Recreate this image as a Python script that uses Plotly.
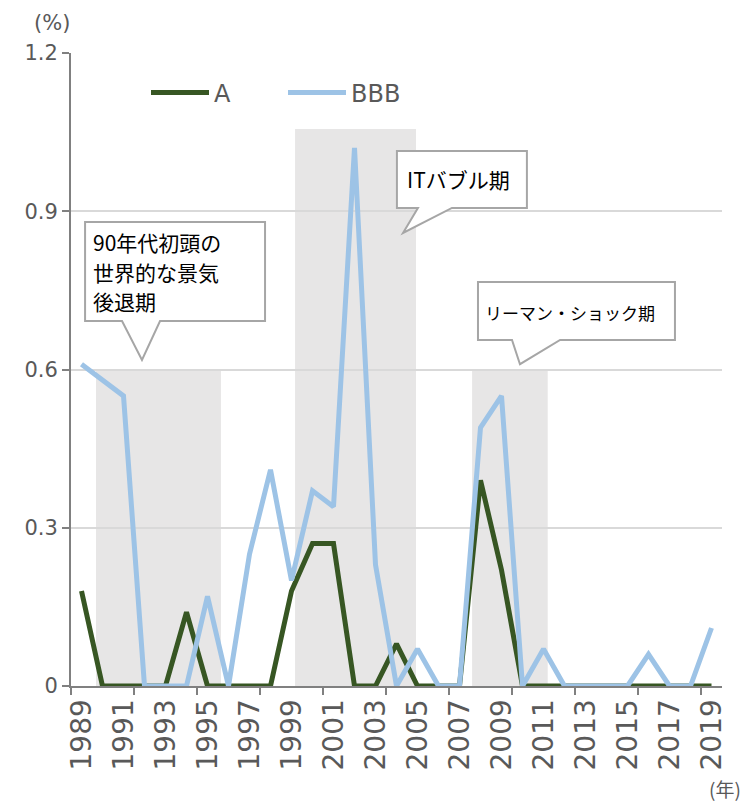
import plotly.graph_objects as go

years = list(range(1989, 2020))
rate_A = [0.18, 0, 0, 0, 0, 0.14, 0, 0, 0, 0, 0.18, 0.27, 0.27, 0, 0, 0.08, 0, 0, 0,
          0.39, 0.22, 0, 0, 0, 0, 0, 0, 0, 0, 0, 0]
rate_BBB = [0.61, 0.58, 0.55, 0, 0, 0, 0.17, 0, 0.25, 0.41, 0.20, 0.37, 0.34, 1.02, 0.23,
            0, 0.07, 0, 0, 0.49, 0.55, 0, 0.07, 0, 0, 0, 0, 0.06, 0, 0, 0.11]
tick_years = list(range(1989, 2020, 2))
tick_labels = [str(y) for y in tick_years]
y_ticks = [0, 0.3, 0.6, 0.9, 1.2]
y_labels = ["0", "0.3", "0.6", "0.9", "1.2"]

# shaded periods
period_start = [1989.69, 1999.17, 2007.60]
period_end = [1995.64, 2004.93, 2011.20]
period_top = [0.60, 1.056, 0.60]
period_lines = [["90年代初頭の", "世界的な景気", "後退期"], ["ITバブル期"], ["リーマン・ショック期"]]

GREEN = "#375623"
BLUE = "#9DC3E6"
GRAY_TXT = "#595959"
AXIS = "#808080"

# figure geometry (page body has an 8px margin)
W, H = 740, 795
L, R, T, B = 63, 26, 45, 117
PW, PH = W - L - R, H - T - B
OFF = 8


def paper(px, py):
    """page pixel -> paper coordinates"""
    fx, fy = px - OFF, py - OFF
    return (fx - L) / PW, (H - fy - B) / PH


fig = go.Figure()
fig.add_trace(go.Scatter(x=years, y=rate_A, name="A", mode="lines",
                         line=dict(color=GREEN, width=5), cliponaxis=False))
fig.add_trace(go.Scatter(x=years, y=rate_BBB, name="BBB", mode="lines",
                         line=dict(color=BLUE, width=5), cliponaxis=False))

shapes = []
for x0, x1, top in zip(period_start, period_end, period_top):
    shapes.append(dict(type="rect", xref="x", yref="y", x0=x0, x1=x1, y0=0, y1=top,
                       fillcolor="#E7E6E6", line=dict(width=0), layer="below"))

# callout boxes: (x0, x1, ytop, ybot, base1, base2, tipx, tipy)
callouts = [
    (1989.17, 1997.74, 0.8796, 0.6919, 1990.93, 1992.74, 1991.88, 0.618),
    (2004.02, 2010.21, 1.0142, 0.9062, 2005.02, 2006.64, 2004.31, 0.8588),
    (2007.88, 2017.26, 0.7660, 0.6560, 2009.50, 2011.79, 2009.88, 0.610),
]
for (x0, x1, yt, yb, b1, b2, tx, ty) in callouts:
    path = (f"M{x0},{yt} L{x1},{yt} L{x1},{yb} L{b2},{yb} L{tx},{ty} "
            f"L{b1},{yb} L{x0},{yb} Z")
    shapes.append(dict(type="path", xref="x", yref="y", path=path,
                       fillcolor="white", line=dict(color="#A6A6A6", width=2),
                       layer="above"))

# text placement: (left x, list of line-centre y, font size)
text_pos = [(1989.45, [0.8417, 0.7848, 0.7299], 21),
            (2004.40, [0.961], 21),
            (2008.12, [0.709], 17)]
annotations = []
for (tx, ys, fs), lines in zip(text_pos, period_lines):
    for ty, txt in zip(ys, lines):
        annotations.append(dict(x=tx, y=ty, xref="x", yref="y", text=txt, showarrow=False,
                                xanchor="left", yanchor="middle", align="left",
                                font=dict(family="Noto Sans CJK JP", size=fs, color="black")))

px_, py_ = paper(52, 23)
annotations.append(dict(x=px_, y=py_, xref="paper", yref="paper", text="(%)",
                        showarrow=False, xanchor="center", yanchor="middle",
                        font=dict(family="DejaVu Sans", size=21, color=GRAY_TXT)))
px_, py_ = paper(725, 788)
annotations.append(dict(x=px_, y=py_, xref="paper", yref="paper", text="(年)",
                        showarrow=False, xanchor="center", yanchor="middle",
                        font=dict(family="Noto Sans CJK JP", size=19, color=GRAY_TXT)))

lx, ly = paper(146, 93)

fig.update_layout(
    width=W, height=H,
    margin=dict(l=L, r=R, t=T, b=B),
    plot_bgcolor="white", paper_bgcolor="white",
    font=dict(family="DejaVu Sans", color=GRAY_TXT, size=21),
    shapes=shapes, annotations=annotations,
    showlegend=True,
    legend=dict(orientation="h", x=lx, y=ly, xanchor="left", yanchor="middle",
                font=dict(family="DejaVu Sans", size=24, color=GRAY_TXT),
                itemwidth=58, entrywidth=64, bgcolor="rgba(0,0,0,0)"),
    xaxis=dict(range=[1988.5, 2019.5], tickmode="array", tickvals=tick_years,
               ticktext=tick_labels, tickangle=-90, ticks="", automargin=False,
               tickfont=dict(family="DejaVu Sans", size=28, color=GRAY_TXT),
               showline=True, linecolor=AXIS, linewidth=2, showgrid=False,
               zeroline=False,
               minor=dict(tickmode="array",
                          tickvals=[1988.5 + 3 * k for k in range(11)],
                          ticks="outside", ticklen=7, tickwidth=2, tickcolor=AXIS,
                          showgrid=False)),
    yaxis=dict(range=[0, 1.2], tickmode="array", tickvals=y_ticks, ticktext=y_labels,
               ticks="outside", ticklen=7, tickwidth=2, tickcolor=AXIS, automargin=False,
               tickfont=dict(family="DejaVu Sans", size=21, color=GRAY_TXT),
               showline=True, linecolor=AXIS, linewidth=2,
               showgrid=True, gridcolor="#D9D9D9", gridwidth=2, zeroline=False),
)

fig.write_html("out.html")
